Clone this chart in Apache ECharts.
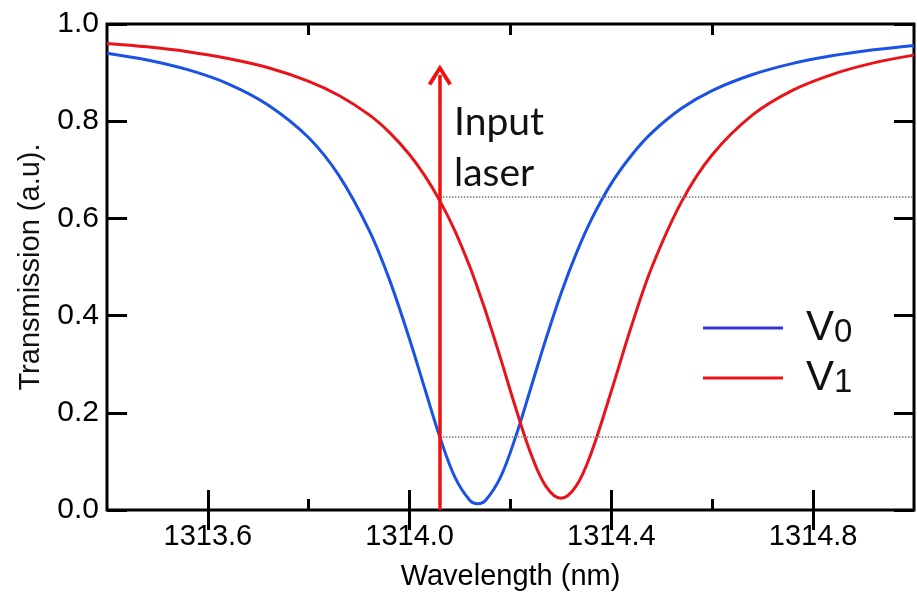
<!DOCTYPE html>
<html style="height: 100%">
  <head>
    <meta charset="utf-8" />
  </head>
  <body style="height: 100%; margin: 0">
    <div id="container" style="width: 917px; height: 594px"></div>

    <script
      type="text/javascript"
      src="https://cdn.jsdelivr.net/npm/echarts@6/dist/echarts.min.js"
    ></script>

    <script type="text/javascript">
      var dom = document.getElementById("container");
      var myChart = echarts.init(dom);

      // wavelength samples (nm)
      var wavelength = [
        1313.40, 1313.48, 1313.56, 1313.64, 1313.72, 1313.80, 1313.86, 1313.92,
        1313.96, 1314.00, 1314.03, 1314.06, 1314.09, 1314.12, 1314.135, 1314.15,
        1314.18, 1314.21, 1314.24, 1314.27, 1314.30, 1314.33, 1314.36, 1314.40,
        1314.44, 1314.48, 1314.54, 1314.60, 1314.68, 1314.76, 1314.84, 1314.92,
        1315.00
      ];
      // transmission at V0 (blue)
      var transV0 = [
        0.940, 0.926, 0.906, 0.877, 0.833, 0.766, 0.688, 0.575,
        0.474, 0.351, 0.250, 0.150, 0.067, 0.019, 0.013, 0.019,
        0.067, 0.150, 0.250, 0.351, 0.445, 0.527, 0.597, 0.672,
        0.730, 0.776, 0.827, 0.863, 0.896, 0.919, 0.935, 0.947,
        0.956
      ];
      // transmission at V1 (red)
      var transV1 = [
        0.960, 0.953, 0.943, 0.929, 0.910, 0.882, 0.853, 0.813,
        0.777, 0.731, 0.688, 0.636, 0.574, 0.499, 0.456, 0.411,
        0.313, 0.211, 0.117, 0.049, 0.024, 0.049, 0.117, 0.245,
        0.379, 0.499, 0.636, 0.731, 0.813, 0.864, 0.897, 0.920,
        0.936
      ];

      var xRange = [1313.4, 1315.0];
      var xMajorTicks = [1313.6, 1314.0, 1314.4, 1314.8];
      var xMinorTicks = [1313.8, 1314.2, 1314.6];

      var laserWavelength = 1314.06;
      var laserArrowTop = 0.895;
      var laserLevels = [0.645, 0.15];

      var plainFont = "'Liberation Sans', Arial, sans-serif";

      function pairs(ys) {
        return wavelength.map(function (w, i) {
          return [w, ys[i]];
        });
      }

      function xAxisDef(pos, ticks, len, withLabels) {
        var ax = {
          type: "value",
          min: xRange[0],
          max: xRange[1],
          position: pos,
          axisLine: { show: false },
          splitLine: { show: false },
          axisTick: {
            inside: true,
            length: len,
            customValues: ticks,
            lineStyle: { color: "#000", width: 3 },
          },
          axisLabel: { show: false },
        };
        if (withLabels) {
          ax.axisLabel = {
            show: true,
            customValues: ticks,
            formatter: function (v) { return v.toFixed(1); },
            color: "#000",
            fontSize: 29,
            fontFamily: plainFont,
            margin: 12,
          };
          ax.name = "Wavelength (nm)";
          ax.nameLocation = "middle";
          ax.nameGap = 52;
          ax.nameTextStyle = { color: "#000", fontSize: 29, fontFamily: plainFont };
        }
        return ax;
      }

      function yAxisDef(pos, withLabels) {
        var ax = {
          type: "value",
          min: 0,
          max: 1,
          interval: 0.2,
          position: pos,
          axisLine: { show: false },
          splitLine: { show: false },
          axisTick: {
            inside: true,
            length: 20,
            lineStyle: { color: "#000", width: 3 },
          },
          axisLabel: { show: false },
        };
        if (withLabels) {
          ax.axisLabel = {
            show: true,
            formatter: function (v) { return v.toFixed(1); },
            color: "#000",
            fontSize: 30,
            fontFamily: plainFont,
            margin: 8,
          };
          ax.name = "Transmission (a.u).";
          ax.nameLocation = "middle";
          ax.nameGap = 62;
          ax.nameTextStyle = { color: "#111", fontSize: 29, fontFamily: plainFont };
        }
        return ax;
      }

      var chevron = "path://M5,0 L10,8.6 L8.6,9.5 L5,3.2 L1.4,9.5 L0,8.6 Z";

      option = {
        backgroundColor: "#fff",
        animation: false,
        grid: {
          left: 107,
          right: 3,
          top: 24,
          bottom: 84,
          outerBoundsMode: "none",
          containLabel: false,
          show: true,
          borderColor: "#000",
          borderWidth: 3,
        },
        legend: {
          orient: "vertical",
          left: 698,
          top: 302,
          itemWidth: 80,
          itemHeight: 3,
          itemGap: 8,
          icon: "rect",
          data: [
            { name: "V0", itemStyle: { color: "#3a33d6" } },
            { name: "V1", itemStyle: { color: "#e8141a" } },
          ],
          formatter: function (name) {
            return "{v|V}{s|" + name.slice(1) + "}";
          },
          textStyle: {
            rich: {
              v: { fontSize: 42, lineHeight: 42, fontFamily: plainFont, color: "#111", padding: [0, 0, 0, 18] },
              s: { fontSize: 33, lineHeight: 10, verticalAlign: "bottom", fontFamily: plainFont, color: "#111" },
            },
          },
        },
        graphic: [
          {
            type: "text",
            left: 454,
            top: 97,
            style: {
              text: "Input\nlaser",
              fontSize: 39,
              fontFamily: "Lato, 'Open Sans', sans-serif",
              lineHeight: 51,
              fill: "#111",
            },
          },
        ],
        xAxis: [
          xAxisDef("bottom", xMajorTicks, 20, true),
          xAxisDef("top", xMajorTicks, 20, false),
          xAxisDef("bottom", xMinorTicks, 11, false),
          xAxisDef("top", xMinorTicks, 11, false),
        ],
        yAxis: [yAxisDef("left", true), yAxisDef("right", false)],
        series: [
          {
            name: "V0",
            type: "line",
            data: pairs(transV0),
            symbol: "none",
            smooth: 0.35,
            lineStyle: { color: "#1a52e6", width: 3 },
            itemStyle: { color: "#1a52e6" },
            markLine: {
              silent: true,
              symbol: ["none", "none"],
              label: { show: false },
              lineStyle: { color: "#777", width: 1.5, type: "dotted" },
              data: laserLevels.map(function (t) {
                return [{ coord: [laserWavelength, t] }, { coord: [xRange[1], t] }];
              }),
            },
          },
          {
            name: "V1",
            type: "line",
            data: pairs(transV1),
            symbol: "none",
            smooth: 0.35,
            lineStyle: { color: "#e8141a", width: 3 },
            itemStyle: { color: "#e8141a" },
            markLine: {
              silent: true,
              symbol: ["none", chevron],
              symbolSize: [24, 21],
              label: { show: false },
              lineStyle: { color: "#f01010", width: 3.5, type: "solid" },
              data: [
                [{ coord: [laserWavelength, 0] }, { coord: [laserWavelength, laserArrowTop] }],
              ],
            },
          },
        ],
      };

      option && myChart.setOption(option);
    </script>
  </body>
</html>
